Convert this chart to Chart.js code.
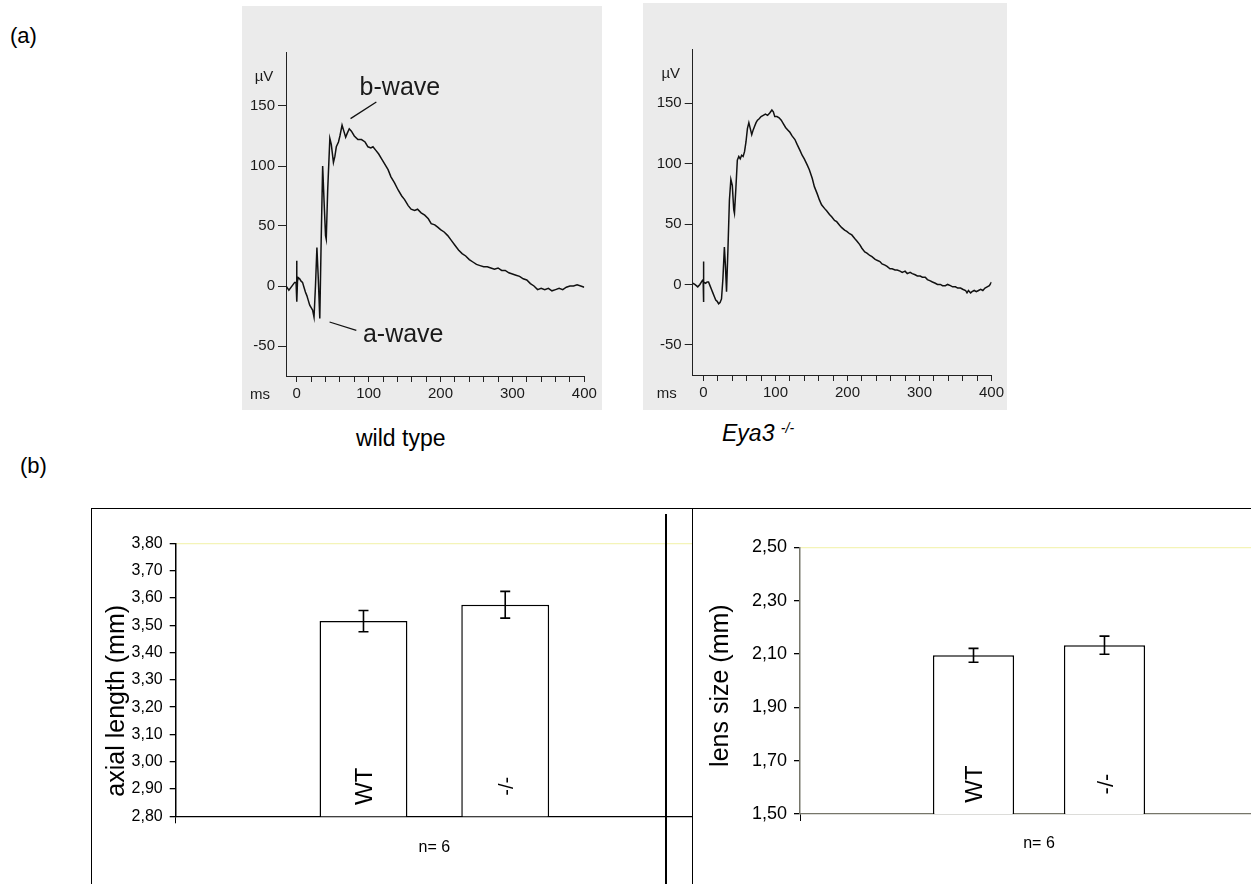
<!DOCTYPE html>
<html>
<head>
<meta charset="utf-8">
<script src="https://cdn.jsdelivr.net/npm/chart.js@4.4.0/dist/chart.umd.min.js"></script>
<style>
  html, body { margin: 0; padding: 0; background: #fff; overflow: hidden; width: 1251px; height: 884px; }
  body { position: relative; font-family: "Liberation Sans", Arial, sans-serif; color: #000; }
  .txt { position: absolute; white-space: nowrap; line-height: 1; }
  canvas { position: absolute; }
  .erg { background: #ebebeb; }
  .box { position: absolute; border: 1.5px solid #000; background: #fff; box-sizing: border-box; }
</style>
</head>
<body>

<div class="txt" style="left:10px; top:25px; font-size:22px;">(a)</div>
<div class="txt" style="left:20px; top:455px; font-size:22px;">(b)</div>

<canvas id="ergWt" class="erg" width="360" height="404" style="left:242px; top:6px;"></canvas>
<canvas id="ergKo" class="erg" width="364" height="407" style="left:643px; top:3px;"></canvas>

<div class="txt" style="left:356px; top:427px; font-size:23px;">wild type</div>
<div class="txt" style="left:722px; top:421px; font-size:23px; font-style:italic;">Eya3 <sup style="font-size:14px; vertical-align:8px;">-/-</sup></div>

<div class="box" style="left:91px; top:508px; width:620px; height:420px;"></div>
<canvas id="barAxial" width="601" height="375" style="left:92px; top:509px;"></canvas>
<div style="position:absolute; left:665px; top:514px; width:1.5px; height:380px; background:#000;"></div>
<div class="box" style="left:692px; top:508px; width:620px; height:420px;"></div>
<canvas id="barLens" width="600" height="375" style="left:693px; top:509px;"></canvas>

<script>
// ERG traces (time in ms, amplitude in µV)
const wtTime = [-15, -11, -6, -3, -1, 0, 0, 0, 1, 2, 4, 6, 8, 10, 12, 14, 16, 18, 20, 22, 24, 26, 28, 30, 32, 34, 36, 38, 40, 41, 43, 46, 48, 51, 53, 55, 58, 60, 63, 66, 68, 70, 73, 76, 80, 85, 90, 95, 99, 103, 106, 110, 114, 118, 122, 127, 131, 136, 141, 146, 150, 155, 159, 164, 168, 173, 178, 183, 187, 192, 196, 200, 205, 210, 215, 220, 225, 230, 235, 240, 245, 250, 255, 260, 265, 270, 275, 280, 285, 290, 295, 300, 305, 310, 315, 320, 325, 330, 335, 340, 345, 350, 355, 360, 365, 370, 375, 380, 385, 390, 395, 400];
const wtUv = [0, -3.5, 0.5, 3, 3, 3, 21, -13, 4, 7, 6, 4, 3, -1, -5, -8, -12, -16, -18, -20, -26, 0, 32, 5, -27, 40, 100, 70, 42, 39, 80, 123, 118, 103, 108, 116, 120, 125, 134, 128, 124, 127, 131, 129, 125, 122, 122, 120, 116, 115, 116, 113, 110, 106, 102, 97, 91, 86, 80, 75, 72, 67, 64, 63, 64, 61, 59, 56, 52, 51, 49, 47, 45, 42, 38, 34, 30, 27, 25, 22, 20, 18, 17, 16, 16, 15, 14, 15, 13, 13, 11, 10, 9, 8, 6, 5, 2, 0, -3, -2, -3, -2, -4, -3, -2, -3, -1, 0, 0, 1, 0, -1];

const koTime = [-15, -12, -8, -5, -2, -0.5, 0, 0, 0.5, 3, 5, 7, 9, 11, 13, 15, 17, 19, 21, 23, 25, 27, 29, 30.5, 32, 34, 36, 38, 40, 42, 43, 45, 47, 49, 51, 53, 55, 57, 59, 61, 63, 65, 67, 69, 71, 73, 75, 77, 80, 83, 86, 89, 92, 95, 97, 99, 102, 105, 108, 111, 114, 117, 120, 123, 127, 130, 134, 137, 140, 144, 147, 151, 154, 158, 161, 164, 168, 171, 175, 178, 182, 185, 189, 192, 196, 199, 203, 206, 210, 213, 217, 220, 224, 227, 231, 234, 238, 241, 245, 248, 252, 255, 259, 262, 266, 269, 273, 276, 280, 283, 287, 290, 294, 297, 301, 304, 308, 311, 315, 318, 322, 325, 329, 332, 336, 339, 343, 346, 350, 353, 357, 360, 364, 366, 368, 371, 373, 376, 379, 382, 385, 388, 391, 394, 397, 400];
const koUv = [1, 0, -2, 0, 3, 4, 19, -14.5, 2, 1, 2, 2, -1, -4, -7, -10, -13, -14, -16, -15, -12, 5, 31, 15, -6, 30, 70, 87, 82, 62, 59, 80, 103, 106, 104, 107, 106, 110, 118, 129, 134, 129, 124, 128, 131, 134, 136, 137, 139, 140, 141, 140, 142, 144.5, 143, 139, 139, 138, 136, 133, 130, 128, 126, 123, 120, 116, 111, 107, 104, 99, 95, 88, 81, 75, 70, 66, 63, 61, 58, 56, 53, 52, 49, 47, 45, 44, 42, 41, 38, 36, 33, 30, 27, 26, 24, 23, 21, 20, 19, 17, 16, 15, 13, 13, 12, 12, 11, 10, 11, 9, 10, 9, 8, 7, 7, 6, 6, 4, 3, 2, 1, 0, 0, -1, -1, 0, -1, -2, -2, -3, -3, -4, -5, -7, -5, -7, -6, -5, -6, -5, -4, -5, -3, -2, -1, 2];

const ergXTicks = [0, 20, 40, 60, 80, 100, 120, 140, 160, 180, 200, 220, 240, 260, 280, 300, 320, 340, 360, 380, 400];
const ergYTicks = [-50, 0, 50, 100, 150];

// pointer lines for the wave labels (ms, µV)
const bWaveLineTime = [74.8, 110.7];
const bWaveLineUv = [139.5, 153.3];
const aWaveLineTime = [45.6, 82.8];
const aWaveLineUv = [-30, -37];

// bar charts
const category = ['n= 6'];
const groups = ['WT', '-/-'];
const axialMean = [3.515, 3.575];
const axialErr = [0.039, 0.049];
const axialTicks = [2.8, 2.9, 3.0, 3.1, 3.2, 3.3, 3.4, 3.5, 3.6, 3.7, 3.8];
const lensMean = [2.095, 2.133];
const lensErr = [0.026, 0.034];
const lensTicks = [1.5, 1.7, 1.9, 2.1, 2.3, 2.5];

const SANS = '"Liberation Sans", Arial, sans-serif';
const NARROW = '"Liberation Sans Narrow", "Arial Narrow", "Liberation Sans", Arial, sans-serif';

const ergLabels = {
    id: 'ergLabels',
    afterDraw(chart, args, o) {
        const { ctx, chartArea, scales } = chart;
        ctx.save();
        ctx.fillStyle = '#1a1a1a';
        ctx.font = '15px ' + SANS;
        ctx.textAlign = 'center';
        ctx.textBaseline = 'middle';
        ctx.fillText('µV', chartArea.left - 22, chartArea.top + 25);
        ctx.fillText('ms', chartArea.left - 26, chartArea.bottom + 19);
        ctx.textAlign = 'left';
        ctx.textBaseline = 'alphabetic';
        ctx.font = '25px ' + SANS;
        (o.notes || []).forEach(n => {
            ctx.fillText(n.text, scales.x.getPixelForValue(n.x), scales.y.getPixelForValue(n.y));
        });
        ctx.restore();
    }
};

function pts(xs, ys) {
    return xs.map((x, i) => ({ x: x, y: ys[i] }));
}

function ergChart(id, times, volts, layout, extra, notes) {
    const datasets = [{
        data: pts(times, volts),
        borderColor: '#111',
        borderWidth: 1.5,
        pointRadius: 0,
        tension: 0,
        fill: false
    }];
    extra.forEach(e => datasets.push({
        data: e,
        borderColor: '#111',
        borderWidth: 1.3,
        pointRadius: 0,
        fill: false
    }));

    new Chart(document.getElementById(id), {
        type: 'line',
        data: { datasets: datasets },
        options: {
            responsive: false,
            animation: false,
            layout: { padding: { top: layout.top, right: layout.right, left: 0, bottom: 0 } },
            plugins: {
                legend: { display: false },
                tooltip: { enabled: false },
                ergLabels: { notes: notes }
            },
            scales: {
                x: {
                    type: 'linear',
                    min: -15,
                    max: 400,
                    afterBuildTicks: a => { a.ticks = ergXTicks.map(v => ({ value: v })); },
                    afterFit: s => { s.height = layout.xh; },
                    grid: { drawOnChartArea: false, tickLength: 6, color: '#222' },
                    border: { color: '#222', width: 1 },
                    ticks: {
                        autoSkip: false,
                        maxRotation: 0,
                        padding: 3,
                        color: '#1a1a1a',
                        font: { family: SANS, size: 15 },
                        callback: v => (v % 100 === 0 ? v : '')
                    }
                },
                y: {
                    min: -75,
                    max: 195,
                    afterBuildTicks: a => { a.ticks = ergYTicks.map(v => ({ value: v })); },
                    afterFit: s => { s.width = layout.yw; },
                    grid: { drawOnChartArea: false, tickLength: 8, color: '#222' },
                    border: { color: '#222', width: 1 },
                    ticks: {
                        padding: 3,
                        color: '#1a1a1a',
                        font: { family: SANS, size: 15 }
                    }
                }
            }
        },
        plugins: [ergLabels]
    });
}

ergChart('ergWt', wtTime, wtUv, { top: 46, right: 17.7, yw: 44, xh: 34 },
    [pts(bWaveLineTime, bWaveLineUv), pts(aWaveLineTime, aWaveLineUv)],
    [{ text: 'b-wave', x: 87.4, y: 159 }, { text: 'a-wave', x: 92, y: -46.5 }]);
ergChart('ergKo', koTime, koUv, { top: 46, right: 14.3, yw: 49.7, xh: 35 }, [], []);

// error bars, rotated group names inside the bars, rotated y title
const barExtras = {
    id: 'barExtras',
    afterDatasetsDraw(chart, args, o) {
        const { ctx, scales } = chart;
        ctx.save();
        chart.data.datasets.forEach((ds, i) => {
            const bar = chart.getDatasetMeta(i).data[0];
            const m = ds.data[0];
            const yt = scales.y.getPixelForValue(m + o.err[i]);
            const yb = scales.y.getPixelForValue(m - o.err[i]);
            ctx.strokeStyle = '#000';
            ctx.lineWidth = 1.6;
            ctx.beginPath();
            ctx.moveTo(bar.x, yt); ctx.lineTo(bar.x, yb);
            ctx.moveTo(bar.x - 5, yt); ctx.lineTo(bar.x + 5, yt);
            ctx.moveTo(bar.x - 5, yb); ctx.lineTo(bar.x + 5, yb);
            ctx.stroke();

            ctx.save();
            ctx.translate(bar.x + 2, scales.y.bottom - 30);
            ctx.rotate(-Math.PI / 2);
            ctx.fillStyle = '#000';
            ctx.textAlign = 'center';
            ctx.textBaseline = 'middle';
            ctx.font = o.fontSizes[i] + 'px ' + SANS;
            ctx.fillText(ds.label, 0, 0);
            ctx.restore();
        });

        const y = scales.y;
        ctx.save();
        ctx.translate(y.left + o.titleX, (y.top + y.bottom) / 2 + o.titleDy);
        ctx.rotate(-Math.PI / 2);
        ctx.fillStyle = '#000';
        ctx.textAlign = 'center';
        ctx.textBaseline = 'middle';
        ctx.font = '25px ' + SANS;
        ctx.fillText(o.title, 0, 0);
        ctx.restore();
        ctx.restore();
    }
};

function barChart(id, means, errs, ticks, s) {
    const top = ticks[ticks.length - 1];
    new Chart(document.getElementById(id), {
        type: 'bar',
        data: {
            labels: category,
            datasets: groups.map((g, i) => ({
                label: g,
                data: [means[i]],
                backgroundColor: '#fff',
                borderColor: '#000',
                borderWidth: 1.5,
                borderSkipped: false,
                categoryPercentage: 0.548,
                barPercentage: 0.62
            }))
        },
        options: {
            responsive: false,
            animation: false,
            layout: { padding: { top: s.top, right: s.right, left: 0, bottom: 0 } },
            plugins: {
                legend: { display: false },
                tooltip: { enabled: false },
                barExtras: { err: errs, fontSizes: s.textSizes, title: s.title, titleX: s.titleX, titleDy: s.titleDy }
            },
            scales: {
                x: {
                    afterFit: a => { a.height = s.xh; },
                    grid: { offset: true, drawOnChartArea: false, tickLength: 7, color: '#000' },
                    border: { color: s.axis, width: 1.3 },
                    ticks: { color: '#000', padding: s.nPad, font: { family: SANS, size: 16 } }
                },
                y: {
                    min: ticks[0],
                    max: top,
                    afterBuildTicks: a => { a.ticks = ticks.map(v => ({ value: v })); },
                    afterFit: a => { a.width = s.yw; },
                    grid: {
                        color: c => (c.tick && Math.abs(c.tick.value - top) < 1e-9 ? '#f4f4b8' : 'rgba(0,0,0,0)'),
                        tickColor: '#000',
                        tickLength: 6,
                        lineWidth: 1.3
                    },
                    border: { color: s.axis, width: 1.5 },
                    ticks: {
                        autoSkip: false,
                        color: '#000',
                        padding: s.tickPad,
                        font: { family: NARROW, size: s.tickSize },
                        callback: v => v.toFixed(2).replace('.', ',')
                    }
                }
            }
        },
        plugins: [barExtras]
    });
}

barChart('barAxial', axialMean, axialErr, axialTicks, {
    top: 34.3, right: 0, yw: 83.7, xh: 67.7, axis: '#000', nPad: 15,
    title: 'axial length (mm)', titleX: 25.5, titleDy: 21,
    tickSize: 16, tickPad: 7, textSizes: [24, 20]
});
barChart('barLens', lensMean, lensErr, lensTicks, {
    top: 38.3, right: 15, yw: 107, xh: 70, axis: '#76766a', nPad: 13,
    title: 'lens size (mm)', titleX: 28, titleDy: 5,
    tickSize: 18, tickPad: 7, textSizes: [24, 22]
});
</script>
</body>
</html>
